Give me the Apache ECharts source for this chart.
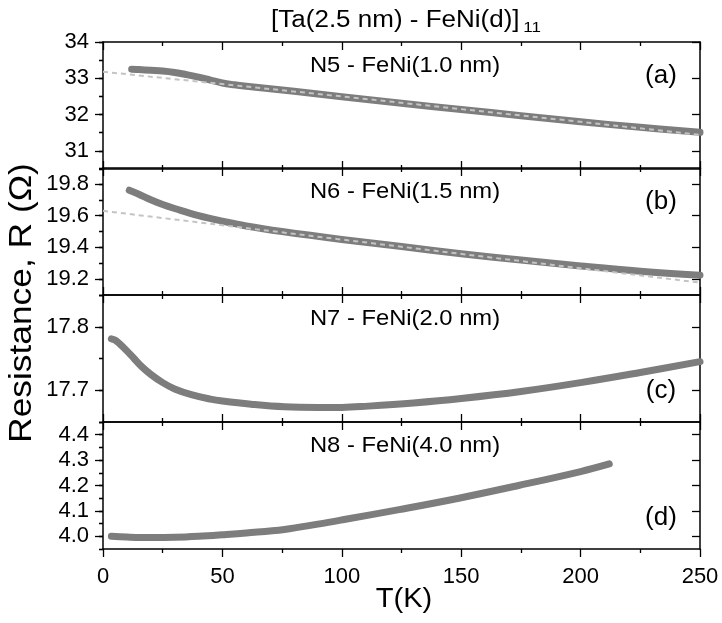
<!DOCTYPE html>
<html><head><meta charset="utf-8">
<script src="https://cdn.jsdelivr.net/npm/echarts@6/dist/echarts.min.js"></script>
<style>html,body{margin:0;padding:0;background:#fff}#c{width:722px;height:623px}</style>
</head><body><div id="c"></div>
<script>
// ---- data ----
const tA = [12, 15, 20, 25, 30, 35, 40, 45, 50, 55, 60, 70, 80, 100, 125, 150, 175, 200, 225, 250];
const rA = [33.25, 33.24, 33.22, 33.2, 33.16, 33.1, 33.03, 32.95, 32.87, 32.82, 32.78, 32.71, 32.64, 32.49, 32.31, 32.14, 31.97, 31.8, 31.65, 31.51];
const fitTA = [0, 50, 100, 150, 200, 250];
const fitRA = [33.18, 32.84, 32.5, 32.15, 31.8, 31.44];

const tB = [11, 15, 20, 25, 30, 40, 50, 60, 75, 100, 125, 150, 175, 200, 225, 250];
const rB = [19.76, 19.735, 19.70, 19.67, 19.645, 19.60, 19.565, 19.535, 19.50, 19.45, 19.405, 19.36, 19.32, 19.283, 19.25, 19.225];
const fitTB = [0, 250];
const fitRB = [19.63, 19.178];

const tC = [3.5, 5, 7, 10, 13, 16, 20, 25, 30, 37, 45, 50, 62, 76, 90, 100, 111, 130, 150, 175, 200, 225, 250];
const rC = [17.781, 17.779, 17.773, 17.762, 17.75, 17.738, 17.725, 17.712, 17.702, 17.693, 17.686, 17.683, 17.678, 17.674, 17.673, 17.673, 17.675, 17.68, 17.687, 17.698, 17.712, 17.728, 17.745];

const tD = [3.5, 10, 20, 30, 40, 50, 60, 76, 90, 101, 124, 149, 174, 200, 212];
const rD = [4.0, 3.997, 3.995, 3.996, 4.0, 4.006, 4.013, 4.027, 4.048, 4.066, 4.105, 4.15, 4.2, 4.255, 4.285];

const panelNames = ['N5 - FeNi(1.0 nm)', 'N6 - FeNi(1.5 nm)', 'N7 - FeNi(2.0 nm)', 'N8 - FeNi(4.0 nm)'];
const panelTags = ['(a)', '(b)', '(c)', '(d)'];
const xTickValues = [0, 50, 100, 150, 200, 250];
const yMajorA = [31, 32, 33, 34];
const yMajorB = [19.2, 19.4, 19.6, 19.8];
const yMajorC = [17.7, 17.8];
const yMajorD = [4.0, 4.1, 4.2, 4.3, 4.4];
const yRanges = [[30.5, 34], [19.1, 19.9], [17.65, 17.85], [3.95, 4.45]];
const yMinorSteps = [0.5, 0.1, 0.05, 0.05];
const titleMain = '[Ta(2.5 nm) - FeNi(d)]';
const titleSub = '11';
const yTitle = 'Resistance, R (\u03A9)';
const xTitle = 'T(K)';

// ---- layout ----
const FONT = '"Liberation Sans", Arial, sans-serif';
const L = 103, RGT = 22;
const tops = [42, 168, 295, 422];
const H = 127;
const yMajors = [yMajorA, yMajorB, yMajorC, yMajorD];
const yDecimals = [0, 1, 1, 1];
const traces = [[tA, rA], [tB, rB], [tC, rC], [tD, rD]];
const fits = [[fitTA, fitRA], [fitTB, fitRB]];
const zip = (a, b) => a.map((v, i) => [v, b[i]]);
const black = { color: '#000', width: 1.5 };

const grids = [], xAxes = [], yAxes = [], series = [], graphics = [];
for (let i = 0; i < 4; i++) {
  grids.push({ left: L, right: RGT, top: tops[i], height: H });
  const xBase = {
    gridIndex: i, type: 'value', min: xTickValues[0], max: xTickValues[xTickValues.length - 1], interval: 50,
    axisLine: { onZero: false, lineStyle: black },
    minorTick: { show: true, splitNumber: 2, length: 4, lineStyle: { color: '#000', width: 1.3 } },
    splitLine: { show: false }, minorSplitLine: { show: false }
  };
  xAxes.push(Object.assign({}, xBase, {
    position: 'bottom',
    axisTick: { inside: i < 3, length: 8, lineStyle: { color: '#000', width: 1.3 } },
    axisLabel: { show: i === 3, color: '#000', fontSize: 22, fontFamily: FONT, margin: 17 }
  }));
  xAxes.push(Object.assign({}, xBase, {
    position: 'top',
    axisTick: { inside: true, length: 8, lineStyle: { color: '#000', width: 1.3 } },
    axisLabel: { show: false }
  }));
  const [mn, mx] = yRanges[i];
  const yBase = { gridIndex: i, type: 'value', min: mn, max: mx, interval: yMinorSteps[i], splitLine: { show: false } };
  const dec = yDecimals[i];
  yAxes.push(Object.assign({}, yBase, {
    position: 'left',
    axisLine: { onZero: false, lineStyle: black },
    axisTick: { customValues: yMajors[i], length: 8, lineStyle: { color: '#000', width: 1.3 } },
    axisLabel: { customValues: yMajors[i], formatter: v => Number(v).toFixed(dec), color: '#000', fontSize: 22, fontFamily: FONT, margin: 14 }
  }));
  yAxes.push(Object.assign({}, yBase, {
    position: 'left', axisLine: { show: false },
    axisTick: { length: 4, lineStyle: { color: '#000', width: 1.3 } }, axisLabel: { show: false }
  }));
  yAxes.push(Object.assign({}, yBase, {
    position: 'right',
    axisLine: { onZero: false, lineStyle: black },
    axisTick: { inside: true, customValues: yMajors[i], length: 8, lineStyle: { color: '#000', width: 1.3 } },
    axisLabel: { show: false }
  }));
  yAxes.push(Object.assign({}, yBase, {
    position: 'right', axisLine: { show: false },
    axisTick: { inside: true, length: 4, lineStyle: { color: '#000', width: 1.3 } }, axisLabel: { show: false }
  }));
  series.push({
    type: 'line', xAxisIndex: 2 * i, yAxisIndex: 4 * i, data: zip(traces[i][0], traces[i][1]),
    smooth: 0.4, showSymbol: false, silent: true, z: 2,
    lineStyle: { color: '#7d7d7d', width: 7, cap: 'round', join: 'round' }
  });
  if (fits[i]) {
    series.push({
      type: 'line', xAxisIndex: 2 * i, yAxisIndex: 4 * i, data: zip(fits[i][0], fits[i][1]),
      showSymbol: false, silent: true, z: 3,
      lineStyle: { color: '#c4c4c4', width: 2, type: [5, 4] }
    });
  }
  graphics.push({ type: 'text', x: 405, y: tops[i] + 24, scaleX: 1.08, style: { text: panelNames[i], fill: '#000', font: '22px ' + FONT, textAlign: 'center', textVerticalAlign: 'middle' } });
  const tagY = i < 2 ? tops[i] + 34 : tops[i] + 96;
  graphics.push({ type: 'text', x: 661, y: tagY, style: { text: panelTags[i], fill: '#000', font: '26px ' + FONT, textAlign: 'center', textVerticalAlign: 'middle' } });
}

graphics.push({
  type: 'text', x: 406, y: 21, scaleX: 1.13,
  style: {
    text: '{m|' + titleMain + '} {s|' + titleSub + '}', textAlign: 'center', textVerticalAlign: 'middle',
    rich: {
      m: { fontSize: 23, fontFamily: FONT, fill: '#000', lineHeight: 28, verticalAlign: 'middle' },
      s: { fontSize: 15, fontFamily: FONT, fill: '#000', lineHeight: 11, verticalAlign: 'bottom' }
    }
  }
});
graphics.push({ type: 'text', x: 22, y: 303, rotation: Math.PI / 2, scaleX: 1.14, style: { text: yTitle, fill: '#000', font: '31px ' + FONT, textAlign: 'center', textVerticalAlign: 'middle' } });
graphics.push({ type: 'text', x: 404, y: 599, scaleX: 1.04, style: { text: xTitle, fill: '#000', font: '28px ' + FONT, textAlign: 'center', textVerticalAlign: 'middle' } });

const chart = echarts.init(document.getElementById('c'), null, { renderer: 'canvas' });
chart.setOption({
  backgroundColor: '#fff', animation: false,
  grid: grids, xAxis: xAxes, yAxis: yAxes, series: series, graphic: graphics
});
</script></body></html>
